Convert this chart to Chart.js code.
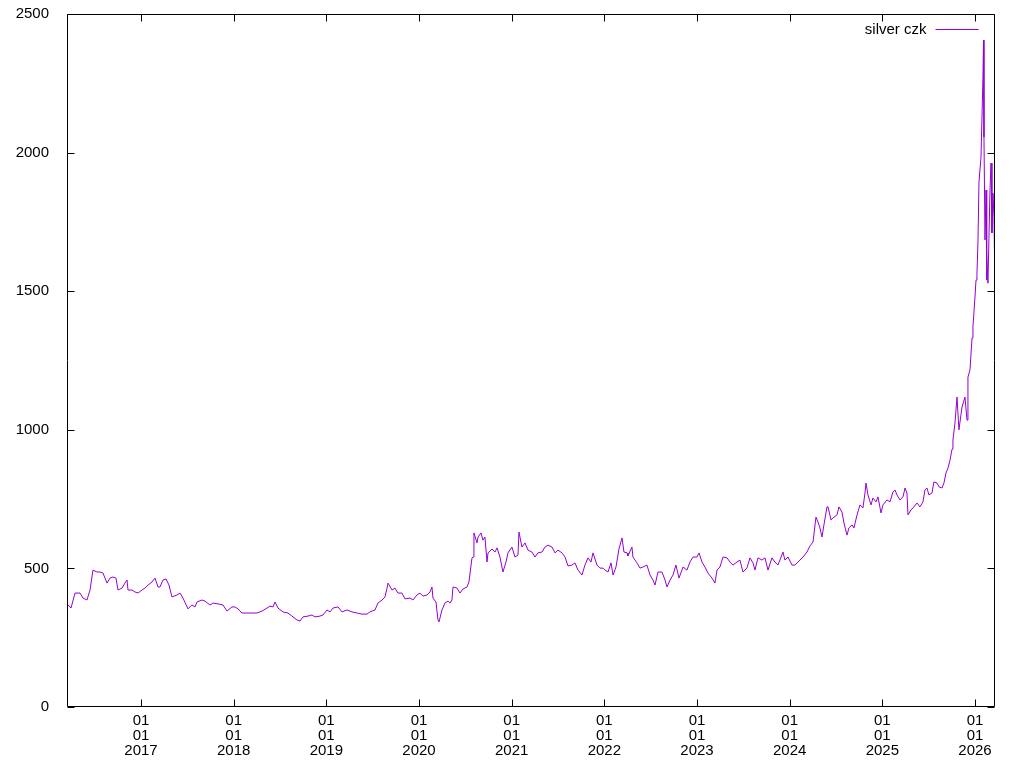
<!DOCTYPE html>
<html lang="en">

<head>
    <meta charset="UTF-8">
    <title>silver czk</title>
    <script src="https://cdn.jsdelivr.net/npm/chart.js@4.4.1/dist/chart.umd.min.js"></script>
    <style>
        body { margin: 0; background: #fff; }
    </style>
</head>

<body>
    <canvas id="silverChart" width="1024" height="768"></canvas>
    <script>

        // time as decimal year, price in CZK
        const dates = [
            2016.202, 2016.245, 2016.288, 2016.342, 2016.374, 2016.417, 2016.450, 2016.482, 2016.525, 2016.558,
            2016.590, 2016.633, 2016.665, 2016.698, 2016.730, 2016.752, 2016.795, 2016.827, 2016.849, 2016.860,
            2016.903, 2016.935, 2016.968, 2017.011, 2017.043, 2017.076, 2017.119, 2017.151, 2017.184, 2017.205,
            2017.237, 2017.270, 2017.302, 2017.334, 2017.388, 2017.421, 2017.453, 2017.507, 2017.550, 2017.583,
            2017.604, 2017.658, 2017.691, 2017.745, 2017.777, 2017.831, 2017.885, 2017.928, 2017.982, 2018.014,
            2018.047, 2018.090, 2018.144, 2018.198, 2018.252, 2018.306, 2018.360, 2018.392, 2018.425, 2018.446,
            2018.478, 2018.532, 2018.586, 2018.629, 2018.683, 2018.716, 2018.748, 2018.802, 2018.845, 2018.878,
            2018.932, 2018.964, 2019.007, 2019.040, 2019.072, 2019.126, 2019.169, 2019.223, 2019.277, 2019.331,
            2019.385, 2019.439, 2019.471, 2019.525, 2019.557, 2019.601, 2019.633, 2019.655, 2019.666, 2019.709,
            2019.741, 2019.773, 2019.816, 2019.849, 2019.903, 2019.935, 2019.978, 2020.011, 2020.043, 2020.086,
            2020.119, 2020.140, 2020.151, 2020.183, 2020.205, 2020.216, 2020.248, 2020.280, 2020.313, 2020.334,
            2020.356, 2020.367, 2020.410, 2020.442, 2020.475, 2020.518, 2020.539, 2020.572, 2020.583, 2020.593,
            2020.626, 2020.637, 2020.669, 2020.691, 2020.712, 2020.734, 2020.745, 2020.788, 2020.820, 2020.842,
            2020.874, 2020.906, 2020.939, 2020.960, 2021.003, 2021.036, 2021.068, 2021.079, 2021.111, 2021.144,
            2021.176, 2021.219, 2021.252, 2021.284, 2021.327, 2021.360, 2021.392, 2021.435, 2021.468, 2021.500,
            2021.543, 2021.576, 2021.608, 2021.651, 2021.683, 2021.716, 2021.759, 2021.791, 2021.824, 2021.856,
            2021.878, 2021.921, 2021.953, 2021.986, 2022.007, 2022.040, 2022.072, 2022.094, 2022.126, 2022.158,
            2022.191, 2022.212, 2022.245, 2022.255, 2022.298, 2022.309, 2022.352, 2022.385, 2022.417, 2022.460,
            2022.493, 2022.525, 2022.547, 2022.579, 2022.622, 2022.655, 2022.676, 2022.709, 2022.741, 2022.773,
            2022.806, 2022.849, 2022.892, 2022.924, 2022.957, 2023.000, 2023.022, 2023.054, 2023.086, 2023.119,
            2023.162, 2023.194, 2023.216, 2023.248, 2023.281, 2023.324, 2023.356, 2023.388, 2023.432, 2023.464,
            2023.496, 2023.539, 2023.572, 2023.604, 2023.626, 2023.658, 2023.701, 2023.734, 2023.766, 2023.809,
            2023.841, 2023.874, 2023.928, 2023.949, 2023.982, 2024.025, 2024.057, 2024.090, 2024.111, 2024.144,
            2024.187, 2024.219, 2024.252, 2024.284, 2024.306, 2024.327, 2024.349, 2024.370, 2024.403, 2024.414,
            2024.446, 2024.468, 2024.511, 2024.532, 2024.565, 2024.586, 2024.619, 2024.640, 2024.673, 2024.694,
            2024.727, 2024.759, 2024.791, 2024.813, 2024.824, 2024.845, 2024.878, 2024.899, 2024.932, 2024.953,
            2024.986, 2025.007, 2025.050, 2025.083, 2025.115, 2025.137, 2025.158, 2025.191, 2025.223, 2025.245,
            2025.266, 2025.277, 2025.309, 2025.331, 2025.374, 2025.406, 2025.439, 2025.460, 2025.482, 2025.503,
            2025.536, 2025.557, 2025.590, 2025.612, 2025.644, 2025.665, 2025.687, 2025.709, 2025.730, 2025.752,
            2025.762, 2025.784, 2025.806, 2025.827, 2025.860, 2025.892, 2025.914, 2025.924, 2025.946, 2025.968,
            2025.978, 2026.000, 2026.011, 2026.021, 2026.032, 2026.043, 2026.065, 2026.086, 2026.092, 2026.097,
            2026.108, 2026.119, 2026.124, 2026.129, 2026.140, 2026.162, 2026.173, 2026.183, 2026.194, 2026.205,
            2026.216
        ]
        const silverCzk = [
            372, 357, 411, 411, 393, 386, 422, 494, 487, 487,
            483, 447, 465, 469, 465, 422, 429, 447, 458, 422,
            422, 415, 411, 422, 429, 440, 451, 465, 433, 433,
            458, 462, 440, 397, 404, 411, 393, 354, 368, 361,
            379, 386, 382, 368, 375, 372, 368, 346, 361, 361,
            354, 339, 339, 339, 339, 346, 357, 364, 361, 379,
            357, 343, 339, 328, 314, 310, 325, 328, 332, 325,
            328, 332, 350, 343, 357, 361, 343, 350, 343, 339,
            335, 335, 343, 350, 375, 386, 397, 429, 447, 422,
            429, 411, 411, 390, 393, 386, 404, 411, 400, 404,
            415, 433, 393, 379, 314, 307, 350, 375, 382, 375,
            386, 433, 429, 411, 426, 433, 451, 538, 541, 628,
            592, 613, 628, 602, 613, 523, 556, 570, 559, 574,
            541, 487, 523, 556, 577, 541, 548, 631, 577, 592,
            566, 559, 541, 556, 559, 577, 584, 577, 556, 566,
            556, 541, 509, 512, 520, 494, 476, 512, 538, 523,
            556, 512, 501, 501, 494, 487, 520, 476, 505, 570,
            610, 559, 556, 545, 577, 541, 520, 501, 505, 512,
            476, 458, 440, 487, 487, 458, 433, 458, 476, 512,
            465, 505, 494, 523, 541, 541, 556, 523, 505, 483,
            465, 447, 494, 505, 541, 538, 523, 512, 523, 530,
            487, 501, 538, 520, 494, 538, 530, 538, 494, 538,
            523, 512, 559, 530, 541, 512, 512, 523, 530, 541,
            559, 581, 595, 685, 667, 646, 613, 657, 722, 722,
            675, 682, 693, 722, 703, 664, 620, 646, 657, 646,
            693, 729, 718, 772, 808, 765, 729, 754, 740, 758,
            700, 729, 747, 740, 776, 783, 765, 747, 758, 790,
            772, 693, 711, 718, 736, 722, 740, 783, 790, 765,
            772, 812, 808, 794, 790, 808, 844, 862, 890, 930,
            963, 1024, 1118, 1000, 1082, 1118, 1035, 1190, 1216, 1331,
            1371, 1479, 1540, 1558, 1674, 1894, 1984, 2273, 2406, 2056,
            1685, 1865, 1540, 1638, 1529, 1865, 1962, 1710, 1854, 1768,
            1504
        ]
        const tickYears = [2017, 2018, 2019, 2020, 2021, 2022, 2023, 2024, 2025, 2026]
        const seriesName = "silver czk"

        const lineColor = 'rgb(148, 0, 211)'
        const fontSpec = { family: '"Liberation Sans", Arial, sans-serif', size: 15, lineHeight: 1 }

        // gnuplot style frame: border box, inward ticks on all 4 sides, key top right
        const framePlugin = {
            id: 'frame',
            afterDraw(chart) {
                const ctx = chart.ctx
                const a = chart.chartArea
                const xs = chart.scales.x
                const ys = chart.scales.y
                const L = a.left + 0.5, R = a.right - 0.5, T = a.top + 0.5, B = a.bottom - 0.5
                const tl = 7
                ctx.save()
                ctx.strokeStyle = '#000'
                ctx.lineWidth = 1
                ctx.beginPath()
                ctx.rect(L, T, R - L, B - T)
                for (const t of xs.ticks) {
                    const px = Math.round(xs.getPixelForValue(t.value)) + 0.5
                    ctx.moveTo(px, B); ctx.lineTo(px, B - tl)
                    ctx.moveTo(px, T); ctx.lineTo(px, T + tl)
                }
                for (const t of ys.ticks) {
                    const py = Math.round(ys.getPixelForValue(t.value)) + 0.5
                    ctx.moveTo(L, py); ctx.lineTo(L + tl, py)
                    ctx.moveTo(R, py); ctx.lineTo(R - tl, py)
                }
                ctx.stroke()

                // key
                const ky = T + 15
                ctx.font = '15px "Liberation Sans", Arial, sans-serif'
                ctx.fillStyle = '#000'
                ctx.textAlign = 'right'
                ctx.textBaseline = 'middle'
                ctx.fillText(chart.data.datasets[0].label, R - 68, ky)
                ctx.strokeStyle = lineColor
                ctx.beginPath()
                ctx.moveTo(R - 59, ky)
                ctx.lineTo(R - 16, ky)
                ctx.stroke()
                ctx.restore()
            }
        }

        function noEdgePadding(scale) {
            scale.paddingTop = 0
            scale.paddingBottom = 0
            scale.paddingLeft = 0
            scale.paddingRight = 0
        }

        const chart = new Chart(document.getElementById('silverChart').getContext('2d'), {
            type: 'line',
            data: {
                datasets: [{
                    label: seriesName,
                    data: dates.map((d, i) => ({ x: d, y: silverCzk[i] })),
                    borderColor: lineColor,
                    borderWidth: 1,
                    pointRadius: 0,
                    tension: 0,
                    fill: false
                }]
            },
            options: {
                responsive: false,
                animation: false,
                devicePixelRatio: 1,
                layout: { padding: { top: 14, right: 29, left: 0, bottom: 0 } },
                plugins: {
                    legend: { display: false },
                    tooltip: { enabled: false }
                },
                scales: {
                    x: {
                        type: 'linear',
                        min: 2016.2015,
                        max: 2026.216,
                        grid: { display: false },
                        border: { display: false },
                        afterBuildTicks: (scale) => {
                            scale.ticks = tickYears.map(v => ({ value: v }))
                        },
                        afterFit: (scale) => {
                            scale.height = 61
                            noEdgePadding(scale)
                        },
                        ticks: {
                            color: '#000',
                            font: fontSpec,
                            padding: -2,
                            maxRotation: 0,
                            autoSkip: false,
                            callback: (v) => ['01', '01', String(v)]
                        }
                    },
                    y: {
                        min: 0,
                        max: 2500,
                        grid: { display: false },
                        border: { display: false },
                        afterFit: (scale) => {
                            scale.width = 67
                            noEdgePadding(scale)
                        },
                        ticks: {
                            color: '#000',
                            font: fontSpec,
                            padding: 10,
                            stepSize: 500,
                            callback: (v) => String(v)
                        }
                    }
                }
            },
            plugins: [framePlugin]
        });

    </script>
</body>

</html>
